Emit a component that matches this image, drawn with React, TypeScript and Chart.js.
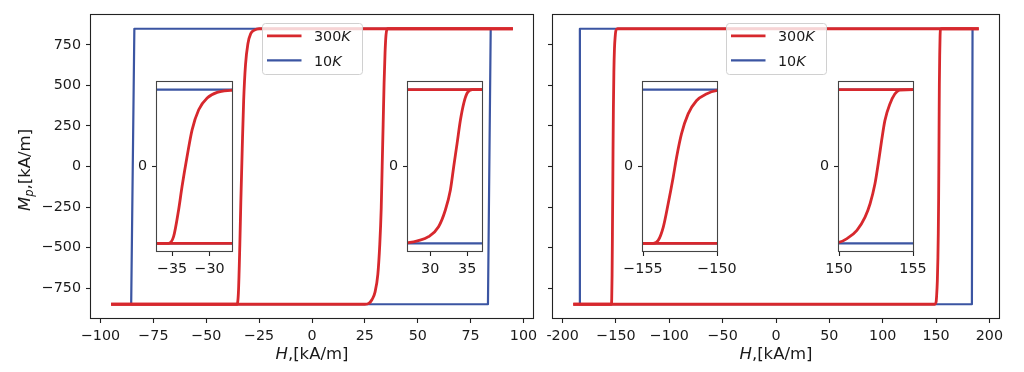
import React, { useEffect, useRef } from 'react';
import { Chart, registerables } from 'chart.js';

Chart.register(...registerables);

const FONT = '"DejaVu Sans", sans-serif';
const RED = '#d7282d';
const BLUE = '#3b55a2';
const INK = '#1a1a1a';
const TICK_SIZE = 14.3;
const TITLE_SIZE = 16.5;

// ---------- data: left panel ----------
const hRedDownL = [-95, -35.46, -34.79, -34.12, -33.66, -32.99, -32.32, -31.44, -30.31, -28.98, -27.2, -25, 95];
const mRedDownL = [-850, -850, -777, -481, -222, 110, 406, 628, 758, 820, 842, 850, 850];
const hRedUpL = [-95, 25, 27.04, 28.4, 29.77, 31.13, 32.05, 32.73, 33.18, 33.64, 34.09, 34.54, 35.0, 35.68, 95];
const mRedUpL = [-850, -850, -843, -821, -777, -666, -481, -259, 0, 259, 517, 702, 813, 850, 850];
const hBlueDownL = [-85.5, -84, 84.5];
const mBlueDownL = [-850, 850, 850];
const hBlueUpL = [-85.5, 83.2, 84.5];
const mBlueUpL = [-850, -850, 850];

// ---------- data: right panel ----------
const hRedDownR = [-190, -154.31, -153.97, -153.63, -153.3, -152.96, -152.73, -152.4, -151.95, -151.39, -150.72, -150.05, -148.5, 190];
const mRedDownR = [-850, -850, -817, -670, -412, -118, 103, 361, 582, 728, 802, 839, 850, 850];
const hRedUpR = [-190, 148.5, 150.04, 150.54, 151.21, 151.76, 152.1, 152.43, 152.65, 152.88, 153.1, 153.44, 153.77, 154.1, 155.5, 190];
const mRedUpR = [-850, -850, -836, -798, -706, -560, -412, -191, 30, 287, 508, 692, 802, 846, 850, 850];
const hBlueDownR = [-184.5, -183.8, 184.2];
const mBlueDownR = [-850, 850, 850];
const hBlueUpR = [-184.5, 183.6, 184.2];
const mBlueUpR = [-850, -850, 850];

// ---------- ticks / labels ----------
const yTicks = [-750, -500, -250, 0, 250, 500, 750];
const yTickLabels = ['−750', '−500', '−250', '0', '250', '500', '750'];
const xTicksL = [-100, -75, -50, -25, 0, 25, 50, 75, 100];
const xTickLabelsL = ['−100', '−75', '−50', '−25', '0', '25', '50', '75', '100'];
const xTicksR = [-200, -150, -100, -50, 0, 50, 100, 150, 200];
const xTickLabelsR = ['-200', '−150', '−100', '−50', '0', '50', '100', '150', '200'];
const xRangeL = [-104.5, 104.5];
const xRangeR = [-209, 209];
const yRange = [-935, 935];

const insetRanges = [[-37, -27], [27, 37], [-155, -150], [150, 155]];
const insetTicks = [[-35, -30], [30, 35], [-155, -150], [150, 155]];
const insetTickLabels = [['−35', '−30'], ['30', '35'], ['−155', '−150'], ['150', '155']];
const insetYTicks = [0];
const insetYTickLabels = ['0'];

const legendLabels = ['300K', '10K'];
const seriesColors = [RED, BLUE];
const seriesWidths = [2.8, 2.2];

type Part = { t: string; it?: boolean; sub?: boolean };
const xTitleParts: Part[] = [{ t: 'H', it: true }, { t: ',[kA/m]' }];
const yTitleParts: Part[] = [{ t: 'M', it: true }, { t: 'p', it: true, sub: true }, { t: ',[kA/m]' }];

function pts(h: number[], m: number[]) {
  return h.map((x, i) => ({ x, y: m[i] }));
}

function partFont(p: Part, size: number) {
  const s = p.sub ? size * 0.7 : size;
  return `${p.it ? 'italic ' : ''}${s}px ${FONT}`;
}

function drawParts(ctx: CanvasRenderingContext2D, parts: Part[], x: number, baseline: number, size: number, align: 'center' | 'left') {
  let total = 0;
  for (const p of parts) {
    ctx.font = partFont(p, size);
    total += ctx.measureText(p.t).width;
  }
  let cx = align === 'center' ? x - total / 2 : x;
  ctx.textAlign = 'left';
  ctx.textBaseline = 'alphabetic';
  for (const p of parts) {
    ctx.font = partFont(p, size);
    ctx.fillText(p.t, cx, baseline + (p.sub ? size * 0.24 : 0));
    cx += ctx.measureText(p.t).width;
  }
}

function datasets(sets: { h: number[]; m: number[]; s: number }[], clip?: number) {
  return sets.map((d) => ({
    data: pts(d.h, d.m),
    borderColor: seriesColors[d.s],
    backgroundColor: seriesColors[d.s],
    borderWidth: seriesWidths[d.s],
    pointRadius: 0,
    fill: false,
    tension: 0,
    cubicInterpolationMode: d.s === 0 ? 'monotone' : 'default',
    borderJoinStyle: 'round',
    ...(clip !== undefined ? { clip } : {}),
  }));
}

const framePlugin = (color: string) => ({
  id: 'frame',
  afterDraw(chart: any) {
    const { ctx, chartArea: a } = chart;
    ctx.save();
    ctx.strokeStyle = color;
    ctx.lineWidth = 1.1;
    ctx.strokeRect(Math.round(a.left) - 0.5, Math.round(a.top) - 0.5, Math.round(a.right - a.left) + 1, Math.round(a.bottom - a.top) + 1);
    ctx.restore();
  },
});

const whiteAreaPlugin = {
  id: 'whiteArea',
  beforeDraw(chart: any) {
    const { ctx, chartArea: a } = chart;
    ctx.save();
    ctx.fillStyle = '#ffffff';
    ctx.fillRect(a.left, a.top, a.right - a.left, a.bottom - a.top);
    ctx.restore();
  },
};

const legendPlugin = {
  id: 'mplLegend',
  afterDatasetsDraw(chart: any) {
    const { ctx, chartArea: a } = chart;
    const w = 100;
    const h = 51;
    const left = (a.left + a.right) / 2 - w / 2;
    const top = a.top + 8;
    ctx.save();
    ctx.beginPath();
    (ctx as any).roundRect(left + 0.5, top + 0.5, w, h, 3);
    ctx.fillStyle = 'rgba(255,255,255,0.8)';
    ctx.fill();
    ctx.strokeStyle = '#d0d0d0';
    ctx.lineWidth = 1;
    ctx.stroke();
    legendLabels.forEach((lab, i) => {
      const y = top + 12.8 + i * 24.5;
      ctx.beginPath();
      ctx.moveTo(left + 5, y);
      ctx.lineTo(left + 39.5, y);
      ctx.strokeStyle = seriesColors[i];
      ctx.lineWidth = seriesWidths[i];
      ctx.stroke();
      ctx.fillStyle = INK;
      drawParts(ctx, [{ t: lab.slice(0, -1) }, { t: lab.slice(-1), it: true }], left + 52, y + 5.3, 14.3, 'left');
    });
    ctx.restore();
  },
};

const titlesPlugin = (withY: boolean) => ({
  id: 'titles',
  afterDraw(chart: any) {
    const { ctx, chartArea: a } = chart;
    ctx.save();
    ctx.fillStyle = INK;
    drawParts(ctx, xTitleParts, (a.left + a.right) / 2, 359, TITLE_SIZE, 'center');
    if (withY) {
      ctx.translate(23.5, 170);
      ctx.rotate(-Math.PI / 2);
      drawParts(ctx, yTitleParts, 0, 6, TITLE_SIZE, 'center');
    }
    ctx.restore();
  },
});

function axisCommon(ticks: number[], labels: string[], size: number) {
  return {
    type: 'linear' as const,
    afterBuildTicks: (s: any) => {
      s.ticks = ticks.map((v) => ({ value: v }));
    },
    ticks: {
      autoSkip: false,
      maxRotation: 0,
      padding: 5,
      color: INK,
      font: { family: FONT, size },
      callback: (_v: any, i: number) => labels[i],
    },
    grid: { display: true, drawOnChartArea: false, drawTicks: true, tickLength: 5, tickWidth: 1.1, tickColor: '#222' },
    border: { display: false },
  };
}

function buildConfig(o: {
  ds: any[];
  xRange: number[];
  xTicks: number[];
  xLabels: string[];
  yTicks: number[];
  yLabels: string[];
  yAxisW: number;
  xAxisH: number;
  pad: { left: number; right: number; top: number; bottom: number };
  plugins: any[];
}) {
  return {
    type: 'line' as const,
    data: { datasets: o.ds },
    options: {
      animation: false as const,
      responsive: false,
      events: [] as any[],
      layout: { padding: o.pad },
      plugins: { legend: { display: false }, tooltip: { enabled: false } },
      scales: {
        x: {
          ...axisCommon(o.xTicks, o.xLabels, TICK_SIZE),
          min: o.xRange[0],
          max: o.xRange[1],
          afterFit: (s: any) => {
            s.height = o.xAxisH;
            s.paddingLeft = 0;
            s.paddingRight = 0;
          },
        },
        y: {
          ...axisCommon(o.yTicks, o.yLabels, TICK_SIZE),
          min: yRange[0],
          max: yRange[1],
          afterFit: (s: any) => {
            s.width = o.yAxisW;
            s.paddingTop = 0;
            s.paddingBottom = 0;
          },
        },
      },
    },
    plugins: o.plugins,
  };
}

const setsL = [
  { h: hRedDownL, m: mRedDownL, s: 0 },
  { h: hRedUpL, m: mRedUpL, s: 0 },
  { h: hBlueDownL, m: mBlueDownL, s: 1 },
  { h: hBlueUpL, m: mBlueUpL, s: 1 },
];
const setsR = [
  { h: hRedDownR, m: mRedDownR, s: 0 },
  { h: hRedUpR, m: mRedUpR, s: 0 },
  { h: hBlueDownR, m: mBlueDownR, s: 1 },
  { h: hBlueUpR, m: mBlueUpR, s: 1 },
];

// layout (pixels on the page)
const MAIN = [
  { left: 0, width: 545, yAxisW: 91, padRight: 12 },
  { left: 545, width: 479, yAxisW: 8, padRight: 25 },
];
const INSET_BOX = [
  { left: 157, right: 232 },
  { left: 408, right: 482 },
  { left: 643, right: 717 },
  { left: 839, right: 913 },
];
const INSET_TOP = 82;
const INSET_BOTTOM = 251;
const INSET_YW = 37;
const INSET_PADR = 22;
const INSET_PADT = 10;
const INSET_XH = 36;

export default function App() {
  const mainRefs = [useRef<HTMLCanvasElement>(null), useRef<HTMLCanvasElement>(null)];
  const insetRefs = [
    useRef<HTMLCanvasElement>(null),
    useRef<HTMLCanvasElement>(null),
    useRef<HTMLCanvasElement>(null),
    useRef<HTMLCanvasElement>(null),
  ];

  useEffect(() => {
    const charts: Chart[] = [];
    charts.push(
      new Chart(
        mainRefs[0].current!,
        buildConfig({
          ds: datasets(setsL),
          xRange: xRangeL,
          xTicks: xTicksL,
          xLabels: xTickLabelsL,
          yTicks,
          yLabels: yTickLabels,
          yAxisW: MAIN[0].yAxisW,
          xAxisH: 372 - 318,
          pad: { left: 0, right: MAIN[0].padRight, top: 15, bottom: 0 },
          plugins: [legendPlugin, framePlugin('#222'), titlesPlugin(true)],
        }) as any
      )
    );
    charts.push(
      new Chart(
        mainRefs[1].current!,
        buildConfig({
          ds: datasets(setsR),
          xRange: xRangeR,
          xTicks: xTicksR,
          xLabels: xTickLabelsR,
          yTicks,
          yLabels: yTicks.map(() => ''),
          yAxisW: MAIN[1].yAxisW,
          xAxisH: 372 - 318,
          pad: { left: 0, right: MAIN[1].padRight, top: 15, bottom: 0 },
          plugins: [legendPlugin, framePlugin('#222'), titlesPlugin(false)],
        }) as any
      )
    );
    INSET_BOX.forEach((b, i) => {
      charts.push(
        new Chart(
          insetRefs[i].current!,
          buildConfig({
            ds: datasets(i < 2 ? setsL : setsR, 0),
            xRange: insetRanges[i],
            xTicks: insetTicks[i],
            xLabels: insetTickLabels[i],
            yTicks: insetYTicks,
            yLabels: insetYTickLabels,
            yAxisW: INSET_YW,
            xAxisH: INSET_XH,
            pad: { left: 0, right: INSET_PADR, top: INSET_PADT, bottom: 0 },
            plugins: [whiteAreaPlugin, framePlugin('#444')],
          }) as any
        )
      );
    });
    return () => charts.forEach((c) => c.destroy());
  }, []);

  return (
    <div style={{ position: 'absolute', left: 0, top: 0, width: 1024, height: 372, background: '#fff', overflow: 'hidden' }}>
      {MAIN.map((m, i) => (
        <canvas
          key={'m' + i}
          ref={mainRefs[i]}
          width={m.width}
          height={372}
          style={{ position: 'absolute', left: m.left, top: 0, width: m.width, height: 372 }}
        />
      ))}
      {INSET_BOX.map((b, i) => {
        const w = b.right - b.left + INSET_YW + INSET_PADR;
        const h = INSET_BOTTOM - INSET_TOP + INSET_PADT + INSET_XH;
        return (
          <canvas
            key={'i' + i}
            ref={insetRefs[i]}
            width={w}
            height={h}
            style={{ position: 'absolute', left: b.left - INSET_YW, top: INSET_TOP - INSET_PADT, width: w, height: h }}
          />
        );
      })}
    </div>
  );
}
